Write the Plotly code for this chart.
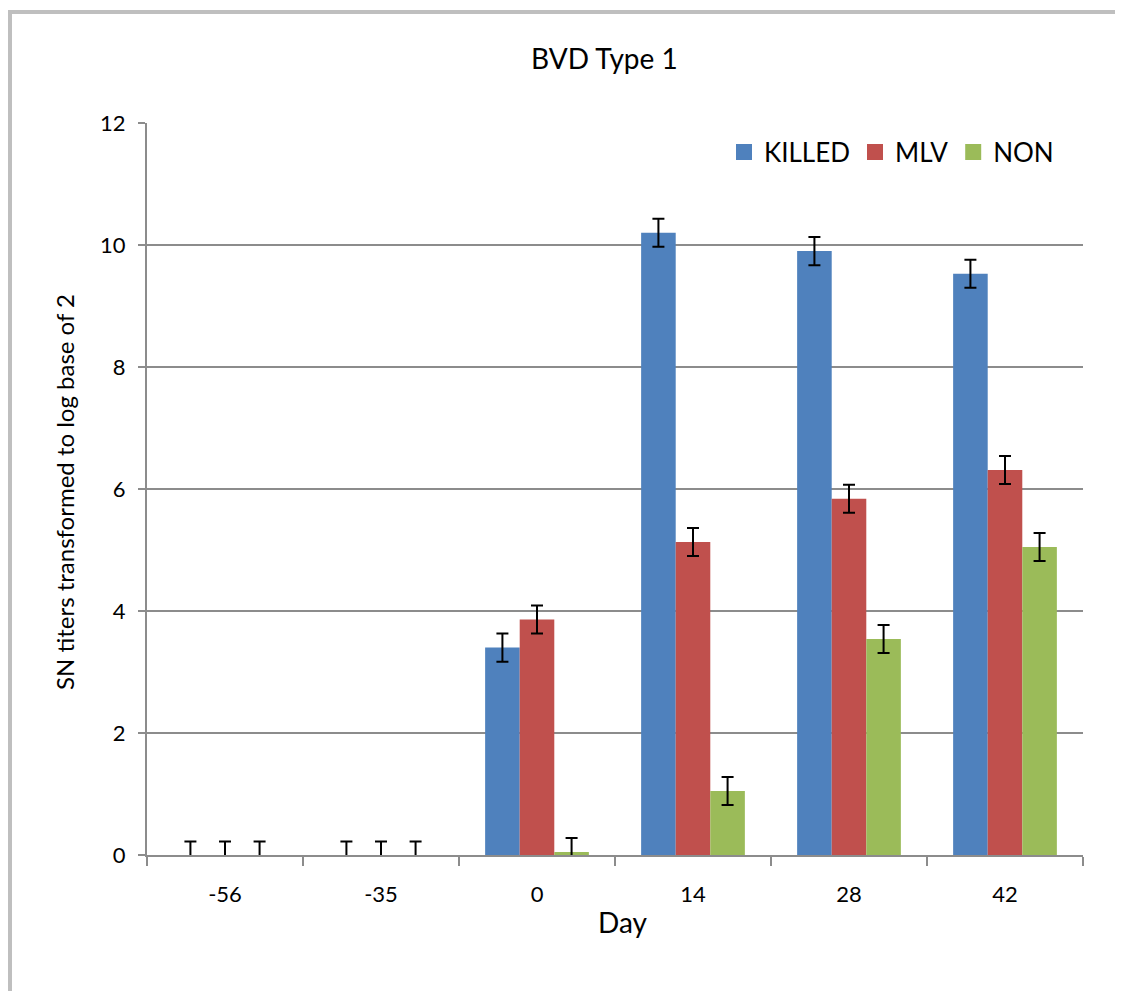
import plotly.graph_objects as go

days = ["-56", "-35", "0", "14", "28", "42"]
killed = [0, 0, 3.40, 10.20, 9.90, 9.53]
mlv = [0, 0, 3.86, 5.13, 5.84, 6.31]
non = [0, 0, 0.05, 1.05, 3.54, 5.05]
killed_err = [0.22, 0.22, 0.23, 0.23, 0.23, 0.23]
mlv_err = [0.22, 0.22, 0.23, 0.23, 0.23, 0.23]
non_err = [0.22, 0.22, 0.23, 0.23, 0.23, 0.23]

series = [
    ("KILLED", killed, killed_err, "#4F81BD"),
    ("MLV", mlv, mlv_err, "#C0504D"),
    ("NON", non, non_err, "#9BBB59"),
]

FONT = "Lato"
OFF = 8  # page body margin
W, H = 1123 - 2 * OFF, 999 - 2 * OFF
L, R, T, B = 147 - OFF, 1083 - OFF, 123 - OFF, 855 - OFF
pw, ph = R - L, B - T


def px(x):
    return (x - OFF - L) / pw


def py(y):
    return (B - (y - OFF)) / ph


fig = go.Figure()
for name, vals, errs, col in series:
    fig.add_trace(go.Bar(
        x=days, y=vals, name=name, showlegend=False, legendgroup=name,
        marker=dict(color=col, line=dict(width=0)),
        error_y=dict(type="data", array=errs, visible=True,
                     color="black", thickness=2, width=6),
    ))
for name, vals, errs, col in series:
    fig.add_trace(go.Scatter(
        x=[None], y=[None], name=name, mode="markers", legendgroup=name,
        marker=dict(symbol="square", size=18, color=col, line=dict(width=0)),
    ))

fig.update_layout(
    width=W, height=H, autosize=False,
    margin=dict(l=L, r=W - R, t=T, b=H - B),
    paper_bgcolor="white", plot_bgcolor="white",
    barmode="group", bargap=0.335, bargroupgap=0,
    font=dict(family=FONT, size=22, color="black"),
    showlegend=True,
    legend=dict(orientation="h", x=px(724), y=py(152),
                xanchor="left", yanchor="middle", itemsizing="trace",
                font=dict(family=FONT, size=26, color="black"),
                bgcolor="rgba(0,0,0,0)", itemwidth=30, tracegroupgap=0),
    xaxis=dict(type="category", tickson="boundaries", ticks="outside",
               ticklen=9, tickwidth=2, tickcolor="#8C8C8C",
               showline=True, linecolor="#8C8C8C", linewidth=2,
               showgrid=False, tickfont=dict(size=22), range=[-0.5, 5.5],
               ticklabelstandoff=19),
    yaxis=dict(range=[0, 12], dtick=2, ticks="outside", ticklen=7,
               tickwidth=2, tickcolor="#8C8C8C",
               showline=True, linecolor="#8C8C8C", linewidth=2,
               showgrid=True, gridcolor="#8C8C8C", gridwidth=2,
               zeroline=False, tickfont=dict(size=22), ticklabelstandoff=8),
    annotations=[
        dict(text="BVD Type 1", xref="paper", yref="paper",
             x=px(604), y=py(58), showarrow=False,
             font=dict(size=28), xanchor="center", yanchor="middle"),
        dict(text="Day", xref="paper", yref="paper",
             x=px(623), y=py(922), showarrow=False,
             font=dict(size=28), xanchor="center", yanchor="middle"),
        dict(text="SN titers transformed to log base of 2", xref="paper", yref="paper",
             x=px(65), y=py(492), showarrow=False, textangle=-90,
             font=dict(size=24), xanchor="center", yanchor="middle"),
    ],
    shapes=[
        dict(type="line", xref="paper", yref="paper",
             x0=px(10), x1=px(10), y0=py(1100), y1=py(10.5),
             line=dict(color="#BFBFBF", width=4), layer="below"),
        dict(type="line", xref="paper", yref="paper",
             x0=px(8), x1=px(1200), y0=py(12), y1=py(12),
             line=dict(color="#BFBFBF", width=4), layer="below"),
    ],
)

fig.write_html("out.html")
